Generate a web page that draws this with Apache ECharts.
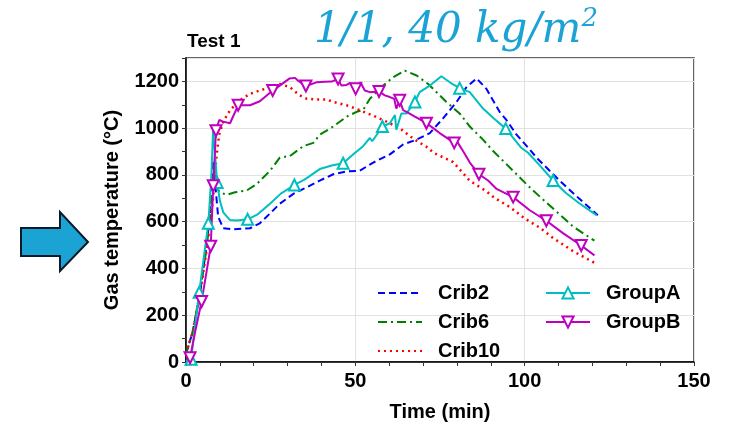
<!DOCTYPE html>
<html>
<head>
<meta charset="utf-8">
<script src="https://cdn.jsdelivr.net/npm/echarts@6/dist/echarts.min.js"></script>
<style>html,body{margin:0;padding:0;background:#fff}#c{width:735px;height:427px}</style>
</head>
<body>
<div id="c"></div>
<script>
// ---- data (time in min, gas temperature in °C) ----
var seriesNames = ['Crib2', 'Crib6', 'Crib10', 'GroupA', 'GroupB'];
var xTicks = [0, 50, 100, 150];
var yTicks = [0, 200, 400, 600, 800, 1000, 1200];

var crib2 = [[0,35],[2,130],[4,280],[6,490],[7,620],[8,860],[8.5,780],[9.5,621],[11,572],[14,568],[18.9,572],[21.8,593],[24.8,635],[27.7,677],[31.7,719],[35.6,747],[39.5,776],[43.5,803],[47.4,815],[51.3,818],[55.3,853],[60.2,888],[64.1,930],[68.1,951],[72,979],[75.9,1042],[79.9,1112],[82.8,1175],[85.8,1213],[88.7,1168],[92.6,1070],[94.6,1035],[97.6,972],[101.5,909],[103.5,874],[110.3,776],[116,700],[121.6,628]];

var crib6 = [[0,35],[2,130],[4,290],[6,480],[7,600],[8.3,840],[9,747],[10,725],[12,715],[14.5,726],[17.9,733],[20.9,761],[24.8,818],[27.7,874],[30.7,881],[34.6,923],[37.6,937],[39.5,972],[43.5,1007],[47.4,1049],[50.4,1070],[52.3,1077],[54.3,1126],[58.2,1182],[61.2,1218],[64.6,1246],[68.1,1225],[71.5,1189],[76.9,1112],[80.8,1063],[83.8,1007],[87.7,951],[90.7,902],[95.6,832],[100.5,761],[102.5,733],[108.4,656],[114.3,579],[120.6,519]];

var crib10 = [[0,35],[2,130],[4,280],[6,470],[7,580],[8,700],[9,880],[9.8,972],[11,1028],[13,1077],[15.9,1119],[18.9,1147],[21.8,1161],[24.8,1175],[27.7,1189],[30.7,1175],[33.6,1140],[35.6,1126],[38.5,1123],[41.5,1123],[43.5,1112],[47.4,1098],[51.3,1077],[55.3,1053],[59.2,1028],[63.1,1000],[67.1,955],[71.5,916],[73,895],[78.9,855],[83.8,775],[88.7,730],[91.2,701],[95.6,663],[100,614],[104.4,575],[108.4,530],[114.3,474],[120.6,424]];

var groupA = [[0,5],[1.5,12],[3.9,298],[5,420],[6.6,593],[7.5,800],[8,993],[8.6,880],[9.2,768],[10,690],[11,640],[13,607],[15,605],[18.2,610],[21,630],[24.8,677],[28,720],[32,757],[35,780],[39.5,825],[43,840],[46.4,850],[49.4,888],[52.3,923],[54.3,958],[55,944],[58,1007],[60.2,1021],[61.7,1056],[62.1,993],[63.6,1063],[65.1,1063],[67.6,1112],[69,1154],[72,1182],[75.4,1222],[78,1195],[80.8,1171],[83.8,1154],[87.7,1084],[91,1040],[94.4,998],[99,916],[101,895],[104.5,840],[108.4,776],[112,725],[116,680],[121.2,628]];
var groupAMarks = [1, 2, 4, 8, 13, 17, 21, 26, 32, 37, 41, 45];

var groupB = [[0.5,2],[1.2,18],[3,150],[4.6,259],[6,380],[7.3,495],[8.05,754],[8.85,989],[9.8,1035],[11,1028],[13,1021],[15.4,1098],[18.9,1098],[21.8,1115],[25.6,1161],[27.7,1182],[30.5,1212],[32.2,1215],[33.1,1203],[35.4,1180],[38.5,1196],[41,1198],[43,1199],[44.9,1210],[45.9,1182],[47.4,1185],[48.4,1193],[50.1,1168],[51.5,1196],[52.8,1161],[54.3,1154],[57,1157],[58.7,1140],[60.2,1133],[61.5,1125],[62.1,1084],[63.1,1119],[64.1,1077],[65.1,1070],[67.6,1049],[71,1021],[73,1000],[74.9,979],[79.2,937],[80.3,937],[81.8,902],[83.8,853],[86.5,803],[89.2,776],[91.7,740],[96.6,705],[101.5,649],[106.4,604],[111.3,551],[116.7,498],[120.6,456]];
var groupBMarks = [1, 3, 5, 6, 7, 11, 14, 19, 23, 27, 31, 36, 40, 43, 47, 50, 52, 54];

function withMarks(arr, marks) {
  return arr.map(function (p, i) {
    return marks.indexOf(i) >= 0 ? { value: p } : { value: p, symbol: 'none' };
  });
}

var FONT = '"Liberation Sans", Arial, sans-serif';
var TITLE_BLUE = '#1ba3d6';
var chart = echarts.init(document.getElementById('c'), null, { renderer: 'canvas' });

var legendText = { fontFamily: FONT, fontSize: 20, fontWeight: 'bold', color: '#000', padding: [0, 0, 0, 11] };

chart.setOption({
  animation: false,
  backgroundColor: '#fff',
  grid: { left: 186, right: 41, top: 58, bottom: 59.5, show: true, borderColor: '#333', borderWidth: 1.5, backgroundColor: 'transparent' },
  legend: [
    { data: seriesNames.slice(0, 3), orient: 'vertical', left: 377, top: 283, padding: 0, itemWidth: 44, itemHeight: 14, itemGap: 9,
      textStyle: legendText, itemStyle: { opacity: 0 } },
    { data: seriesNames.slice(3), orient: 'vertical', left: 545, top: 283, padding: 0, itemWidth: 44, itemHeight: 14, itemGap: 9,
      textStyle: legendText }
  ],
  xAxis: {
    type: 'value', min: xTicks[0], max: xTicks[xTicks.length - 1], interval: xTicks[1] - xTicks[0],
    name: 'Time (min)', nameLocation: 'middle', nameGap: 40,
    nameTextStyle: { fontFamily: FONT, fontSize: 20, fontWeight: 'bold', color: '#000' },
    axisLine: { lineStyle: { color: '#000', width: 1.5 } },
    axisTick: { show: true, inside: false, length: 4, lineStyle: { color: '#333' } },
    minorTick: { show: true, splitNumber: 5, length: 4, lineStyle: { color: '#333' } },
    axisLabel: { fontFamily: FONT, fontSize: 20, fontWeight: 'bold', color: '#000', margin: 9 },
    splitLine: { show: true, lineStyle: { color: '#e2e2e2', width: 1 } }
  },
  yAxis: {
    type: 'value', min: 0, max: 1300, interval: yTicks[1] - yTicks[0],
    name: 'Gas temperature (°C)', nameLocation: 'middle', nameGap: 64,
    nameTextStyle: { fontFamily: FONT, fontSize: 20, fontWeight: 'bold', color: '#000' },
    axisLine: { show: true, lineStyle: { color: '#000', width: 1.5 } },
    axisTick: { show: true, inside: false, length: 4, lineStyle: { color: '#333' } },
    minorTick: { show: true, splitNumber: 2, length: 4, lineStyle: { color: '#333' } },
    axisLabel: { fontFamily: FONT, fontSize: 20, fontWeight: 'bold', color: '#000', margin: 7, showMaxLabel: false,
      formatter: function (v) { return yTicks.indexOf(v) >= 0 ? String(v) : ''; } },
    splitLine: { show: true, lineStyle: { color: '#e2e2e2', width: 1 } }
  },
  series: [
    { name: 'Crib2', type: 'line', data: crib2, symbol: 'none', color: '#0000ff',
      lineStyle: { color: '#0000ff', width: 2, type: [7, 4] } },
    { name: 'Crib6', type: 'line', data: crib6, symbol: 'none', color: '#008000',
      lineStyle: { color: '#008000', width: 2, type: [9, 4, 2, 4] } },
    { name: 'Crib10', type: 'line', data: crib10, symbol: 'none', color: '#ff0000',
      lineStyle: { color: '#ff0000', width: 2.5, type: [2, 4] } },
    { name: 'GroupA', type: 'line', data: withMarks(groupA, groupAMarks), symbol: 'emptyTriangle', symbolSize: 11,
      showAllSymbol: true, color: '#00bfbf', itemStyle: { color: '#00bfbf', borderWidth: 1.5 },
      lineStyle: { color: '#00bfbf', width: 2 } },
    { name: 'GroupB', type: 'line', data: withMarks(groupB, groupBMarks), symbol: 'emptyTriangle', symbolRotate: 180, symbolSize: 11,
      showAllSymbol: true, color: '#bf00bf', itemStyle: { color: '#bf00bf', borderWidth: 1.5 },
      lineStyle: { color: '#bf00bf', width: 2 } }
  ],
  graphic: [
    { type: 'polygon', shape: { points: [[21,228],[60,228],[60,212],[88,242],[60,271],[60,256],[21,256]] },
      style: { fill: '#1aa3d3', stroke: '#0b1a2a', lineWidth: 2 } },
    { type: 'text', left: 187, top: 32, style: { text: 'Test 1', font: 'bold 19px ' + FONT, fill: '#000' } },
    { type: 'text', left: 314, top: 6, style: {
        text: '{a|1/1, 40 kg/m}{s|2}',
        fill: TITLE_BLUE,
        rich: {
          a: { fontFamily: '"DejaVu Serif", serif', fontStyle: 'italic', fontSize: 42, fill: TITLE_BLUE, verticalAlign: 'bottom' },
          s: { fontFamily: '"DejaVu Serif", serif', fontStyle: 'italic', fontSize: 26, fill: TITLE_BLUE, verticalAlign: 'top', padding: [0, 0, 20, 0] }
        } } }
  ]
});
</script>
</body>
</html>
